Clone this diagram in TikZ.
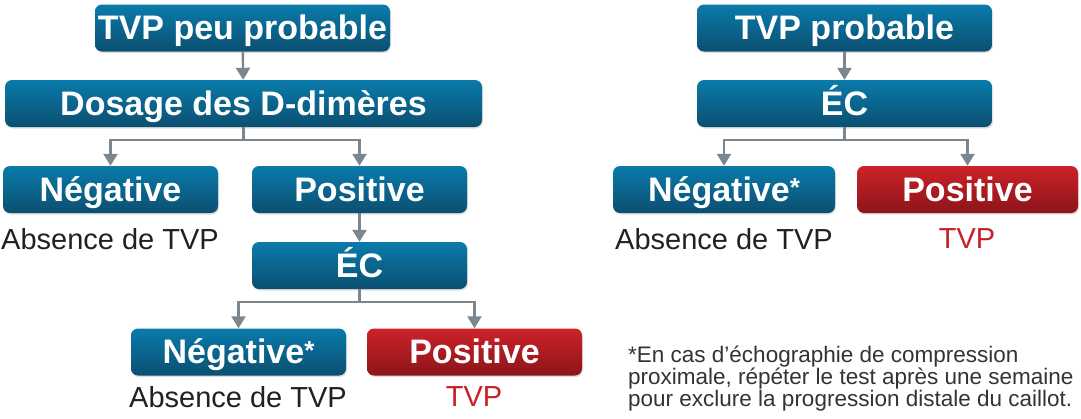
\documentclass[tikz,border=0pt]{standalone}
\usepackage{fontspec}
\setmainfont{Liberation Sans}
\usepackage{tikz}
\usetikzlibrary{arrows.meta,shadows}
\definecolor{boxtop}{HTML}{0A7BAB}
\definecolor{boxbot}{HTML}{0B4F70}
\definecolor{redtop}{HTML}{CC2229}
\definecolor{redbot}{HTML}{8C1519}
\definecolor{linkgray}{HTML}{7A8690}
\definecolor{tvpred}{HTML}{C8202A}
\definecolor{notegray}{HTML}{333333}
\newcommand{\fnstar}{\raisebox{4.5pt}{\fontsize{26}{26}\selectfont *}}

\begin{document}
\begin{tikzpicture}[x=1pt,y=-1pt,
  bluebox/.style={rounded corners=7pt,top color=boxtop,bottom color=boxbot,
    text=white,font=\fontsize{34}{36}\selectfont\bfseries,
    minimum height=47pt,inner sep=0pt,text height=24.5pt,text depth=1pt,
    drop shadow={opacity=0.25,shadow xshift=1pt,shadow yshift=-1.5pt}},
  redbox/.style={bluebox,top color=redtop,bottom color=redbot},
  outcome/.style={font=\fontsize{29}{31}\selectfont,text=black!87,inner sep=0pt},
  link/.style={line width=2.4pt,draw=linkgray,-{Triangle[width=14pt,length=12pt]}}]
\useasboundingbox (0,0) rectangle (1081,418);

% left: TVP peu probable
\node[bluebox,minimum width=295pt] (low) at (242.5,28) {TVP peu probable};
\node[bluebox,minimum width=477pt] (ddim) at (243.5,103.5) {Dosage des D-dimères};
\node[bluebox,minimum width=215pt] (negA) at (110.5,189.5) {Négative};
\node[bluebox,minimum width=215pt] (posA) at (359.5,189.5) {Positive};
\node[outcome] (absA) at (110,239) {Absence de TVP};
\node[bluebox,minimum width=215pt] (ecA) at (359.5,265.5) {ÉC};
\node[bluebox,minimum width=215pt] (negB) at (238.5,352) {Négative\fnstar};
\node[redbox,minimum width=215pt] (posB) at (474.5,352) {Positive};
\node[outcome] (absB) at (238,397) {Absence de TVP};
\node[outcome,text=tvpred] (tvpB) at (474,397) {TVP};

\draw[link] (low) -- (ddim);
\draw[link] (ddim.south) -- ++(0,13) -| (negA.north);
\draw[link] (ddim.south) -- ++(0,13) -| (posA.north);
\draw[link] (posA) -- (ecA);
\draw[link] (ecA.south) -- ++(0,13) -| (negB.north);
\draw[link] (ecA.south) -- ++(0,13) -| (posB.north);

% right: TVP probable
\node[bluebox,minimum width=295pt] (high) at (844.5,28) {TVP probable};
\node[bluebox,minimum width=295pt] (ecC) at (844.5,103.5) {ÉC};
\node[bluebox,minimum width=222pt] (negC) at (724,189.5) {Négative\fnstar};
\node[redbox,minimum width=221pt] (posC) at (967.5,189.5) {Positive};
\node[outcome] (absC) at (724,239) {Absence de TVP};
\node[outcome,text=tvpred] (tvpC) at (967,239) {TVP};

\draw[link] (high) -- (ecC);
\draw[link] (ecC.south) -- ++(0,13) -| (negC.north);
\draw[link] (ecC.south) -- ++(0,13) -| (posC.north);

% note
\node[anchor=north west,align=left,inner sep=0pt,text=notegray,
  font=\fontsize{22.5}{21.7}\selectfont] (note) at (628,346)
  {*En cas d’échographie de compression\\
   proximale, répéter le test après une semaine\\
   pour exclure la progression distale du caillot.};
\end{tikzpicture}
\end{document}
